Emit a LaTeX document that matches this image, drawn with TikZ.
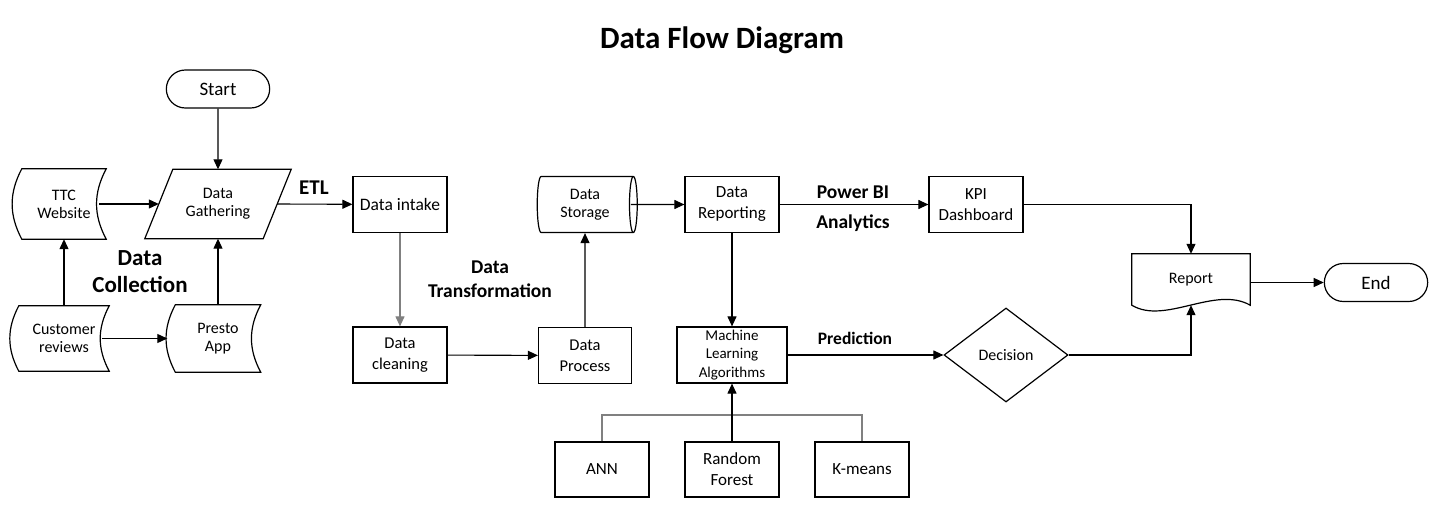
\documentclass[tikz,border=0pt]{standalone}
\usepackage{fontspec}
\setmainfont{Carlito}
\usetikzlibrary{arrows.meta,shapes.geometric,shapes.misc}
\begin{document}
\begin{tikzpicture}[
    x=1pt,y=-1pt,
    every node/.style={align=center,font=\fontsize{16}{18}\selectfont},
    box/.style={draw,line width=1.2pt,minimum width=94pt,minimum height=56pt,inner sep=1pt},
    plain/.style={minimum width=#1,inner sep=0pt},
    terminal/.style={draw,rounded rectangle,line width=1.2pt,minimum width=110pt,
        minimum height=38pt,font=\fontsize{19}{22}\selectfont},
    flow/.style={-{Triangle[length=10pt,width=9pt]},line width=1.1pt},
    lbl/.style={font=\bfseries\fontsize{19.5}{24}\selectfont},
    outline/.style={line width=1.2pt}]
    \useasboundingbox (0,0) rectangle (1441,510);
    \node[font=\bfseries\fontsize{31}{36}\selectfont] (title) at (722,40) {Data Flow Diagram};
    % collection
    \node[terminal] (start) at (218,89) {Start};
    \node[plain=118pt,minimum height=69pt] (gather) at (218,204) {Data\\Gathering};
    \node[plain=84pt,minimum height=70pt] (ttc) at (64,204) {TTC\\Website};
    \node[plain=90pt,minimum height=65pt] (cust) at (64,338.5) {Customer\\reviews};
    \node[plain=85pt,minimum height=67pt] (presto) at (218,338.5) {Presto\\App};
    \draw[outline] ([xshift=14]gather.north west) -- ([xshift=14]gather.north east) --
        ([xshift=-14]gather.south east) -- ([xshift=-14]gather.south west) -- cycle;
    \foreach \n in {ttc,cust,presto} {
        \draw[outline] (\n.north west) to[bend right=28] (\n.south west) --
            (\n.south east) to[bend left=28] (\n.north east) -- cycle;
    }
    \node[lbl,font=\bfseries\fontsize{23}{27}\selectfont] (coll) at (140,272) {Data\\Collection};
    % transformation
    \node[box,font=\fontsize{17.5}{20}\selectfont] (intake) at (400,204.5) {Data intake};
    \node[box,font=\fontsize{16.5}{21}\selectfont] (clean) at (400,355) {Data\\cleaning};
    \node[box,minimum width=93pt,font=\fontsize{16.5}{21}\selectfont] (process) at (585,355.5) {Data\\Process};
    \node[draw,cylinder,shape aspect=0.25,line width=1.2pt,minimum width=56pt,
        minimum height=100pt,inner sep=0pt] (storage) at (585,204.5) {Data\\Storage};
    \node[lbl,font=\bfseries\fontsize{21}{24}\selectfont] (etl) at (314,188) {ETL};
    \node[lbl] (trans) at (490,279) {Data\\Transformation};
    % reporting
    \node[box,font=\fontsize{17}{21}\selectfont] (dreport) at (732,204.5) {Data\\Reporting};
    \node[box,font=\fontsize{17}{21}\selectfont] (kpi) at (976,204.5) {KPI\\Dashboard};
    \node[box,minimum width=110pt,font=\fontsize{15}{18.5}\selectfont] (ml) at (732,355)
        {Machine\\Learning\\Algorithms};
    \node[draw,diamond,aspect=1.32,line width=1.2pt,minimum width=124pt,minimum height=94pt,
        inner sep=0pt] (dec) at (1006,355) {Decision};
    \node[plain=118pt,minimum height=51pt] (report) at (1191,279.5) {Report};
    \draw[outline] (report.north west) -- (report.south west)
        .. controls +(33,20) and +(-35,-20) .. (report.south east) --
        (report.north east) -- cycle;
    \node[terminal] (fin) at (1376,282.5) {End};
    \node[lbl] (pbi) at (853,192) {Power BI};
    \node[lbl] (analytics) at (853,223) {Analytics};
    \node[lbl,font=\bfseries\fontsize{17.5}{21}\selectfont] (pred) at (855,338) {Prediction};
    % algorithms
    \node[box,minimum height=55pt,font=\fontsize{17}{21}\selectfont] (ann) at (602,469.5) {ANN};
    \node[box,minimum height=55pt,font=\fontsize{17}{21}\selectfont] (rf) at (732,469.5) {Random\\Forest};
    \node[box,minimum height=55pt,font=\fontsize{17}{21}\selectfont] (kmeans) at (862,469.5) {K-means};
    \coordinate (join) at (732,415);
    % connectors
    \draw[flow] (start) -- (gather);
    \draw[flow] ([xshift=-7]ttc.east) -- (gather.west);
    \draw[flow] (cust) -- (ttc);
    \draw[flow] ([xshift=-7]cust.east) -- ([xshift=-8]presto.west);
    \draw[flow] (presto) -- (gather);
    \draw[flow] (gather.east) -- (intake);
    \draw[flow,gray] (intake) -- (clean);
    \draw[flow] (clean) -- (process);
    \draw[flow] (process) -- (storage);
    \draw[flow] ([xshift=-7]storage.east) -- (dreport);
    \draw[flow] (dreport) -- (kpi);
    \draw[flow] (dreport) -- (ml);
    \draw[flow] (ml) -- (dec);
    \draw[flow] (kpi.east) -| (report.north);
    \draw[flow] (dec.east) -| (report.south);
    \draw[flow] (report.east |- fin.west) -- (fin.west);
    \draw[line width=1.1pt,gray] (ann.north) |- (join) -| (kmeans.north);
    \draw[flow] (rf) -- (ml);
\end{tikzpicture}
\end{document}
